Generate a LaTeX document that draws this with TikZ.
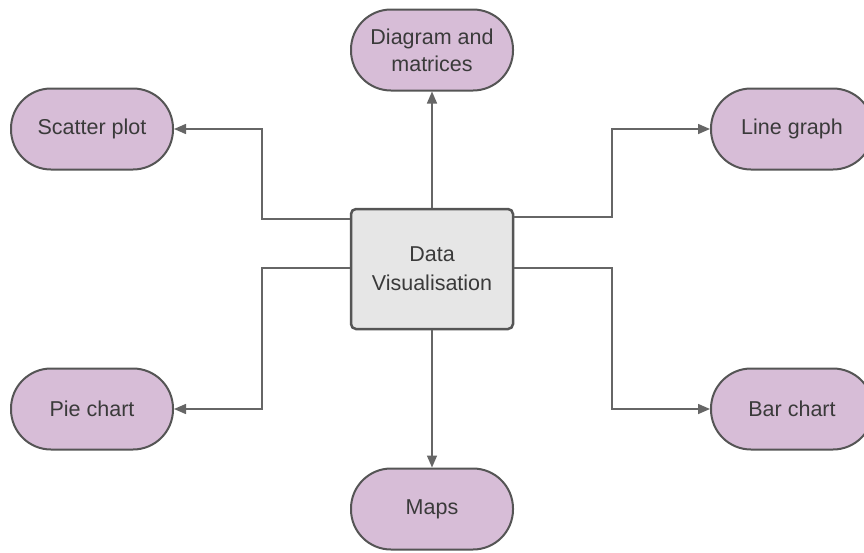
\documentclass[tikz,border=0pt]{standalone}
\usepackage{fontspec}
\setmainfont{Liberation Sans}
\usetikzlibrary{arrows.meta}
\definecolor{leaf}{HTML}{D7BDD7}
\definecolor{hub}{HTML}{E6E6E6}
\definecolor{edge}{HTML}{555555}
\definecolor{ink}{HTML}{3A3A3A}
\tikzset{
  leafbox/.style={draw=edge, line width=2pt, fill=leaf, rounded corners=40pt,
    minimum width=162pt, minimum height=81pt, inner sep=0pt, align=center,
    text=ink, font=\fontsize{21.5}{27}\selectfont},
  hubbox/.style={draw=edge, line width=2.5pt, fill=hub, rounded corners=5pt,
    minimum width=162pt, minimum height=120pt, inner sep=0pt, align=center,
    text=ink, font=\fontsize{21.5}{29}\selectfont},
  link/.style={draw=edge!90, line width=1.5pt,
    -{Triangle[length=12pt,width=10pt]}},
}
\begin{document}
\begin{tikzpicture}[x=1pt,y=-1pt]
  \useasboundingbox (0,0) rectangle (864,552);
  % central topic
  \node[hubbox] (hub) at (432,269) {Data\\Visualisation};
  % chart types
  \node[leafbox] (diag) at (432,50) {Diagram and\\matrices};
  \node[leafbox] (scatter) at (92,129) {Scatter plot};
  \node[leafbox] (line) at (792,129) {Line graph};
  \node[leafbox] (pie) at (92,409) {Pie chart};
  \node[leafbox] (bar) at (792,409) {Bar chart};
  \node[leafbox] (maps) at (432,509) {Maps};
  % bend points of the elbow connectors
  \coordinate (sA) at (262,219);
  \coordinate (sB) at (262,129);
  \coordinate (pA) at (262,268);
  \coordinate (pB) at (262,409);
  \coordinate (lA) at (612,217);
  \coordinate (lB) at (612,129);
  \coordinate (bA) at (612,268);
  \coordinate (bB) at (612,409);
  % connectors
  \draw[link] (hub.north) -- (diag.south);
  \draw[link] (hub.south) -- (maps.north);
  \draw[link] (hub.west |- sA) -- (sA) -- (sB) -- (scatter.east);
  \draw[link] (hub.west |- pA) -- (pA) -- (pB) -- (pie.east);
  \draw[link] (hub.east |- lA) -- (lA) -- (lB) -- (line.west);
  \draw[link] (hub.east |- bA) -- (bA) -- (bB) -- (bar.west);
\end{tikzpicture}
\end{document}
